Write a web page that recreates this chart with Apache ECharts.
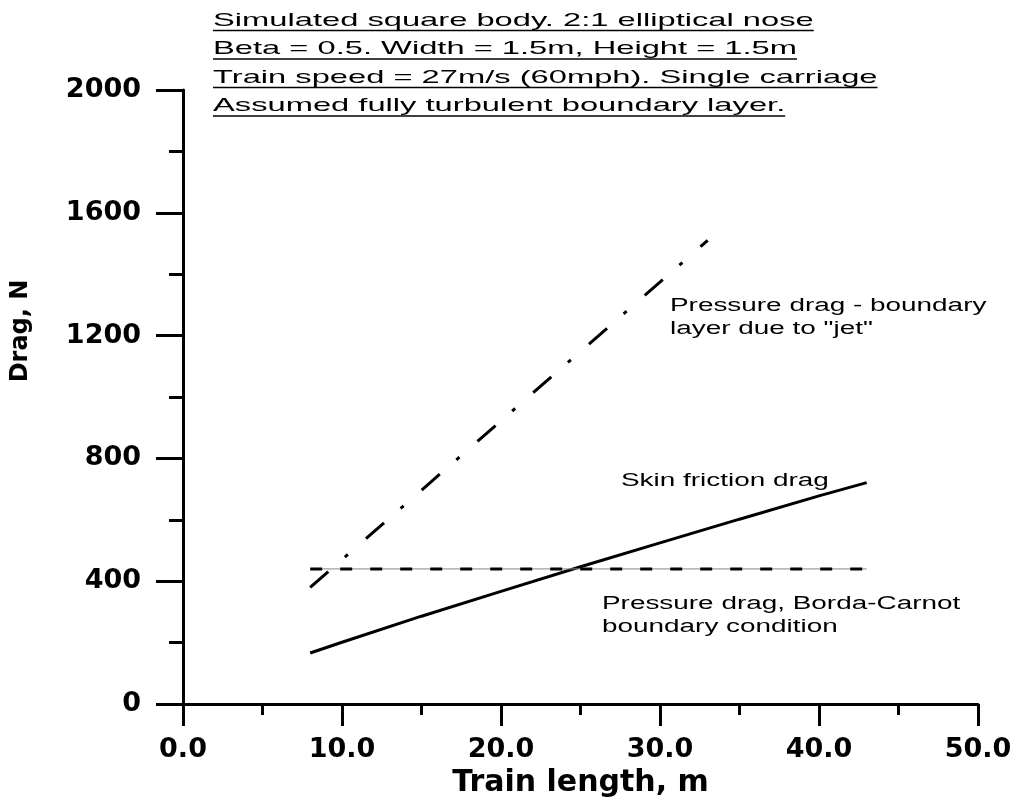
<!DOCTYPE html>
<html>
<head>
<meta charset="utf-8">
<script src="https://cdn.jsdelivr.net/npm/echarts@6/dist/echarts.min.js"></script>
<style>
  html, body { margin: 0; padding: 0; background: #fff; }
  #chart { width: 1018px; height: 803px; }
</style>
</head>
<body>
<div id="chart"></div>
<script>
// drag vs train length
var skinFrictionX = [8, 10, 15, 20, 25, 30, 35, 40, 43]
var skinFrictionY = [166, 201, 286, 367, 447, 525, 602, 678, 721]
var jetDragX = [8, 33]
var jetDragY = [380, 1510]
var bordaDragX = [8, 43]
var bordaDragY = [440, 440]

var headerLines = [
  'Simulated square body. 2:1 elliptical nose',
  'Beta = 0.5. Width = 1.5m, Height = 1.5m',
  'Train speed = 27m/s (60mph). Single carriage',
  'Assumed fully turbulent boundary layer.'
]
var jetLabel = ['Pressure drag - boundary', 'layer due to "jet"']
var skinLabel = ['Skin friction drag']
var bordaLabel = ['Pressure drag, Borda-Carnot', 'boundary condition']

var BOLD = 'DejaVu Sans'
var THIN = 'Liberation Sans'

function pairs(xs, ys) {
  return xs.map(function(x, i) { return [x, ys[i]] })
}

var measureCtx = document.createElement('canvas').getContext('2d')
function textWidth(str, font) {
  measureCtx.font = font
  return measureCtx.measureText(str).width
}

// the original figure is stretched sideways, so free text gets a scaleX
function headerGraphics() {
  var fs = 19, sx = 1.72, left = 213, top = 11, step = 28.5
  var out = []
  headerLines.forEach(function(line, i) {
    var y = top + i * step
    out.push({
      type: 'text', x: left, y: y, scaleX: sx, silent: true,
      style: { text: line, fontFamily: THIN, fontSize: fs, lineHeight: fs, fill: '#000', textVerticalAlign: 'top' }
    })
    var w = textWidth(line, fs + 'px "' + THIN + '"') * sx
    out.push({
      type: 'line', silent: true,
      shape: { x1: left, y1: y + 19.5, x2: left + w, y2: y + 19.5 },
      style: { stroke: '#000', lineWidth: 1.5 }
    })
  })
  return out
}

function note(lines, x, y) {
  return {
    type: 'text', x: x, y: y, scaleX: 1.55, silent: true,
    style: { text: lines.join('\n'), fontFamily: THIN, fontSize: 18, lineHeight: 23, fill: '#000', textVerticalAlign: 'top' }
  }
}

function axisCommon() {
  return {
    type: 'value',
    axisLine: { show: true, onZero: false, lineStyle: { color: '#000', width: 3 } },
    splitLine: { show: false },
    minorSplitLine: { show: false }
  }
}

var chart = echarts.init(document.getElementById('chart'), null, { renderer: 'canvas' })

var xAxis = axisCommon()
Object.assign(xAxis, {
  min: 0, max: 50, interval: 10,
  axisTick: { show: true, length: 22, lineStyle: { color: '#000', width: 3 } },
  minorTick: { show: true, splitNumber: 2, length: 11, lineStyle: { color: '#000', width: 3 } },
  axisLabel: {
    margin: 32, color: '#000', fontFamily: BOLD, fontWeight: 'bold', fontSize: 27,
    formatter: function(v) { return v.toFixed(1) }
  },
  name: 'Train length, m', nameLocation: 'middle', nameGap: 64,
  nameTextStyle: { color: '#000', fontFamily: BOLD, fontWeight: 'bold', fontSize: 30 }
})

var yAxis = axisCommon()
Object.assign(yAxis, {
  min: 0, max: 2000, interval: 400,
  axisTick: { show: true, length: 27, lineStyle: { color: '#000', width: 3 } },
  minorTick: { show: true, splitNumber: 2, length: 14, lineStyle: { color: '#000', width: 3 } },
  axisLabel: {
    margin: 42, color: '#000', fontFamily: BOLD, fontWeight: 'bold', fontSize: 27,
    formatter: function(v) { return String(v) }
  },
  name: 'Drag, N', nameLocation: 'middle', nameGap: 150,
  nameTextStyle: { color: '#000', fontFamily: BOLD, fontWeight: 'bold', fontSize: 24, padding: [0, 0, 0, 132] }
})

function lineSeries(data, style) {
  return {
    type: 'line', data: data, symbol: 'none', silent: true,
    lineStyle: Object.assign({ color: '#000', width: 3, cap: 'butt' }, style)
  }
}

chart.setOption({
  animation: false,
  backgroundColor: '#fff',
  grid: { left: 183, right: 40, top: 90, bottom: 96, containLabel: false },
  xAxis: xAxis,
  yAxis: yAxis,
  series: [
    lineSeries(pairs(skinFrictionX, skinFrictionY), {}),
    lineSeries(pairs(bordaDragX, bordaDragY), { color: '#888', width: 1 }),
    lineSeries(pairs(bordaDragX, bordaDragY), { type: [12, 18] }),
    lineSeries(pairs(jetDragX, jetDragY), { type: [24, 22, 4, 24] })
  ],
  graphic: headerGraphics().concat([
    note(jetLabel, 670, 295),
    note(skinLabel, 621, 470),
    note(bordaLabel, 602, 593)
  ])
})
</script>
</body>
</html>
